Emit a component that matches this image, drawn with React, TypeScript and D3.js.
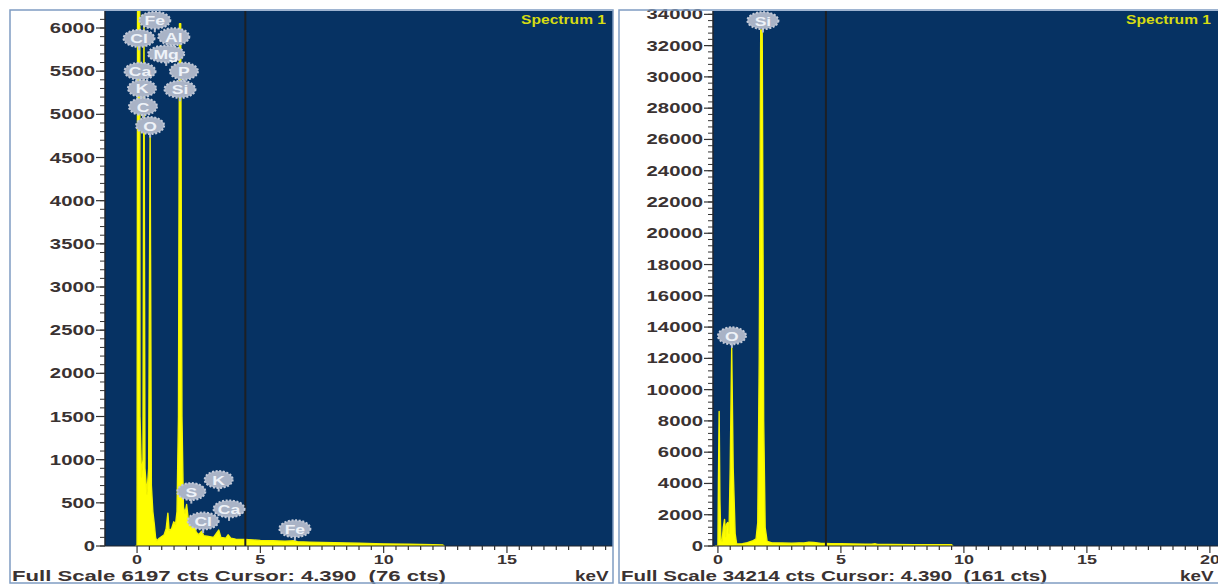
import React from "react";
import * as d3 from "d3";

// ---------- data ----------
const LEFT_KEV = [-0.05, 0.0, 0.02, 0.04, 0.1, 0.12, 0.18, 0.24, 0.28, 0.32, 0.4, 0.47, 0.53, 0.58, 0.64, 0.7, 0.75, 0.8, 0.9, 1.0, 1.1, 1.18, 1.25, 1.3, 1.4, 1.49, 1.56, 1.62, 1.68, 1.72, 1.77, 1.82, 1.88, 1.95, 2.01, 2.08, 2.15, 2.31, 2.4, 2.5, 2.62, 2.7, 2.9, 3.1, 3.31, 3.4, 3.6, 3.69, 3.8, 4.0, 4.39, 5.0, 5.5, 6.0, 6.4, 6.5, 7.0, 8.0, 9.0, 10.0, 11.0, 12.0, 12.4, 12.45];
const LEFT_CTS = [0, 0, 6000, 12000, 12000, 1500, 800, 1000, 6150, 900, 600, 900, 4800, 700, 400, 250, 100, 60, 90, 110, 130, 200, 380, 180, 200, 280, 250, 400, 1500, 6050, 6050, 1500, 450, 380, 480, 300, 220, 260, 160, 130, 170, 120, 110, 100, 185, 100, 90, 130, 90, 80, 76, 65, 60, 55, 60, 50, 45, 38, 32, 25, 20, 15, 12, 0];

const RIGHT_KEV = [-0.1, 0.0, 0.02, 0.05, 0.08, 0.12, 0.17, 0.22, 0.27, 0.31, 0.35, 0.4, 0.45, 0.5, 0.56, 0.62, 0.7, 0.76, 1.0, 1.2, 1.4, 1.55, 1.62, 1.68, 1.74, 1.8, 1.86, 1.92, 2.0, 2.2, 2.6, 3.0, 3.3, 3.5, 3.7, 3.9, 4.2, 4.39, 4.6, 5.0, 5.5, 6.0, 6.25, 6.4, 6.5, 7.0, 8.0, 9.0, 9.5, 9.55];
const RIGHT_CTS = [0, 0, 4000, 8600, 3000, 400, 300, 1200, 1700, 600, 1400, 1500, 800, 5000, 12700, 5000, 800, 130, 150, 220, 320, 450, 1500, 12000, 33000, 33000, 8000, 1200, 300, 200, 190, 180, 200, 190, 250, 220, 170, 161, 150, 140, 130, 120, 110, 140, 100, 95, 90, 85, 80, 0];

const LEFT_Y_TICKS = [0, 500, 1000, 1500, 2000, 2500, 3000, 3500, 4000, 4500, 5000, 5500, 6000];
const RIGHT_Y_TICKS = [0, 2000, 4000, 6000, 8000, 10000, 12000, 14000, 16000, 18000, 20000, 22000, 24000, 26000, 28000, 30000, 32000, 34000];
const X_TICKS = [0, 5, 10, 15, 20];

const LEFT_TAG_EL = ["Fe", "Cl", "Al", "Mg", "Ca", "P", "K", "Si", "C", "O", "K", "S", "Ca", "Cl", "Fe"];
const LEFT_TAG_KEV = [0.72, 0.08, 1.49, 1.18, 0.12, 1.9, 0.2, 1.74, 0.24, 0.53, 3.31, 2.2, 3.73, 2.68, 6.4];
const LEFT_TAG_CTS = [6090, 5880, 5900, 5700, 5500, 5500, 5300, 5290, 5090, 4870, 770, 630, 430, 290, 200];

const RIGHT_TAG_EL = ["Si", "O"];
const RIGHT_TAG_KEV = [1.83, 0.57];
const RIGHT_TAG_CTS = [33600, 13440];

const FULL_SCALE = [6197, 34214];
const CURSOR_KEV = 4.39;
const CURSOR_CTS = [76, 161];
const TITLE = "Spectrum 1";

// ---------- drawing ----------
const FONT = "'Liberation Sans', Arial, sans-serif";
const AXIS_TEXT = "#3a3232";
const PLOT_BG = "#063263";
const FRAME = "#7f9cc2";

type PanelProps = {
  frameX0: number;
  frameX1: number;
  plotX0: number;
  plotX1: number;
  xDomain: [number, number];
  kev: number[];
  cts: number[];
  yTicks: number[];
  yMinorStep: number;
  fullScale: number;
  cursorCts: number;
  tagEl: string[];
  tagKev: number[];
  tagCts: number[];
  id: string;
  footWidth: number;
};

function ScaledText(props: {
  x: number;
  y: number;
  sx?: number;
  size?: number;
  anchor?: string;
  fill?: string;
  children: React.ReactNode;
}) {
  const { x, y, sx = 1.4, size = 14, anchor = "start", fill = AXIS_TEXT, children } = props;
  return (
    <g transform={`translate(${x},${y}) scale(${sx},1)`}>
      <text fontFamily={FONT} fontSize={size} fontWeight="bold" textAnchor={anchor as any} fill={fill}>
        {children}
      </text>
    </g>
  );
}

function Badge({ x, y, label }: { x: number; y: number; label: string }) {
  const w = label.length === 1 ? 28 : label === "Mg" ? 36 : 31;
  return (
    <g>
      <line x1={x} x2={x} y1={y + 6} y2={y + 12} stroke="#b4bccb" strokeWidth={2} />
      <ellipse cx={x} cy={y} rx={w / 2} ry={8.5} fill="#a9b3c6" stroke="#c3cad8" strokeWidth={2} strokeDasharray="2 1.6" />
      <g transform={`translate(${x},${y + 5}) scale(1.35,1)`}>
        <text fontFamily={FONT} fontSize={13} fontWeight="bold" textAnchor="middle" fill="#eef2f8">
          {label}
        </text>
      </g>
    </g>
  );
}

function Panel(p: PanelProps) {
  const top = 11;
  const bottom = 546;
  const x = d3.scaleLinear().domain(p.xDomain).range([p.plotX0, p.plotX1]);
  const y = d3.scaleLinear().domain([0, p.fullScale]).range([bottom, top]);
  const pts = p.kev.map((k, i) => [k, p.cts[i]] as [number, number]);
  const area = d3
    .area<[number, number]>()
    .x((d) => x(d[0]))
    .y0(bottom)
    .y1((d) => y(d[1]))
    .curve(d3.curveLinear);
  const minorY = d3.range(0, p.fullScale, p.yMinorStep);
  const minorX = d3.range(0, p.xDomain[1], 0.5);
  const clipId = `clip-${p.id}`;
  return (
    <g>
      <defs>
        <clipPath id={clipId}>
          <rect x={p.plotX0} y={top} width={p.plotX1 - p.plotX0} height={bottom - top} />
        </clipPath>
      </defs>
      <rect x={p.frameX0} y={10} width={p.frameX1 - p.frameX0} height={573} fill="#ffffff" />
      <rect x={p.plotX0} y={top} width={p.plotX1 - p.plotX0} height={bottom - top} fill={PLOT_BG} />
      <g clipPath={`url(#${clipId})`}>
        <path d={area(pts) || ""} fill="#ffff00" stroke="#f4f400" strokeWidth={1.4} strokeLinejoin="round" />
        <line x1={x(CURSOR_KEV)} x2={x(CURSOR_KEV)} y1={top} y2={bottom} stroke="#1c1f24" strokeWidth={2} />
        {p.tagEl.map((el, i) => (
          <Badge key={i} x={x(p.tagKev[i])} y={y(p.tagCts[i])} label={el} />
        ))}
        <ScaledText x={p.plotX1 - 7} y={24} sx={1.3} size={12} anchor="end" fill="#d6dc12">
          {TITLE}
        </ScaledText>
      </g>
      {/* y axis */}
      <line x1={p.plotX0} x2={p.plotX0} y1={top} y2={bottom} stroke="#20252c" strokeWidth={1.5} />
      {minorY.map((v) => (
        <line key={`ym${v}`} x1={p.plotX0 - 5} x2={p.plotX0} y1={y(v)} y2={y(v)} stroke="#333" strokeWidth={1} />
      ))}
      {p.yTicks.map((v) => (
        <g key={`y${v}`}>
          <line x1={p.plotX0 - 9} x2={p.plotX0} y1={y(v)} y2={y(v)} stroke="#333" strokeWidth={1.2} />
          <ScaledText x={p.plotX0 - 10} y={y(v) + 5} anchor="end" sx={1.45}>
            {v}
          </ScaledText>
        </g>
      ))}
      {/* x axis */}
      <line x1={p.plotX0} x2={p.plotX1} y1={bottom} y2={bottom} stroke="#20252c" strokeWidth={1} />
      {minorX
        .filter((v) => x(v) <= p.plotX1)
        .map((v) => (
          <line key={`xm${v}`} x1={x(v)} x2={x(v)} y1={bottom} y2={bottom + (v % 5 === 0 ? 7 : 4)} stroke="#333" strokeWidth={1.2} />
        ))}
      {X_TICKS.filter((v) => x(v) <= p.plotX1 + 10).map((v) => (
        <ScaledText key={`x${v}`} x={x(v)} y={564} anchor="middle" sx={1.5} size={12}>
          {v}
        </ScaledText>
      ))}
      {/* footer */}
      <text
        x={p.frameX0 + 2}
        y={581}
        fontFamily={FONT}
        fontSize={14}
        fontWeight="bold"
        fill={AXIS_TEXT}
        textLength={p.footWidth}
        lengthAdjust="spacingAndGlyphs"
        style={{ whiteSpace: "pre" }}
      >
        {`Full Scale ${p.fullScale} cts Cursor: ${CURSOR_KEV.toFixed(3)}  (${p.cursorCts} cts)`}
      </text>
      <ScaledText x={p.plotX1 - 38} y={581} sx={1.35} size={14}>
        keV
      </ScaledText>
      {/* frame */}
      <rect x={p.frameX0} y={10} width={p.frameX1 - p.frameX0} height={573} fill="none" stroke={FRAME} strokeWidth={1.5} />
    </g>
  );
}

export default function App() {
  return (
    <svg
      width={1218}
      height={584}
      style={{ position: "absolute", left: 0, top: 0, background: "#ffffff" }}
      xmlns="http://www.w3.org/2000/svg"
    >
      <Panel
        id="l"
        frameX0={10}
        frameX1={613}
        plotX0={105}
        plotX1={613}
        xDomain={[-1.3, 19.3]}
        kev={LEFT_KEV}
        cts={LEFT_CTS}
        yTicks={LEFT_Y_TICKS}
        yMinorStep={100}
        fullScale={FULL_SCALE[0]}
        cursorCts={CURSOR_CTS[0]}
        tagEl={LEFT_TAG_EL}
        tagKev={LEFT_TAG_KEV}
        tagCts={LEFT_TAG_CTS}
        footWidth={434}
      />
      <Panel
        id="r"
        frameX0={619}
        frameX1={1222}
        plotX0={713}
        plotX1={1218}
        xDomain={[-0.2, 20.33]}
        kev={RIGHT_KEV}
        cts={RIGHT_CTS}
        yTicks={RIGHT_Y_TICKS}
        yMinorStep={400}
        fullScale={FULL_SCALE[1]}
        cursorCts={CURSOR_CTS[1]}
        tagEl={RIGHT_TAG_EL}
        tagKev={RIGHT_TAG_KEV}
        tagCts={RIGHT_TAG_CTS}
        footWidth={426}
      />
    </svg>
  );
}
